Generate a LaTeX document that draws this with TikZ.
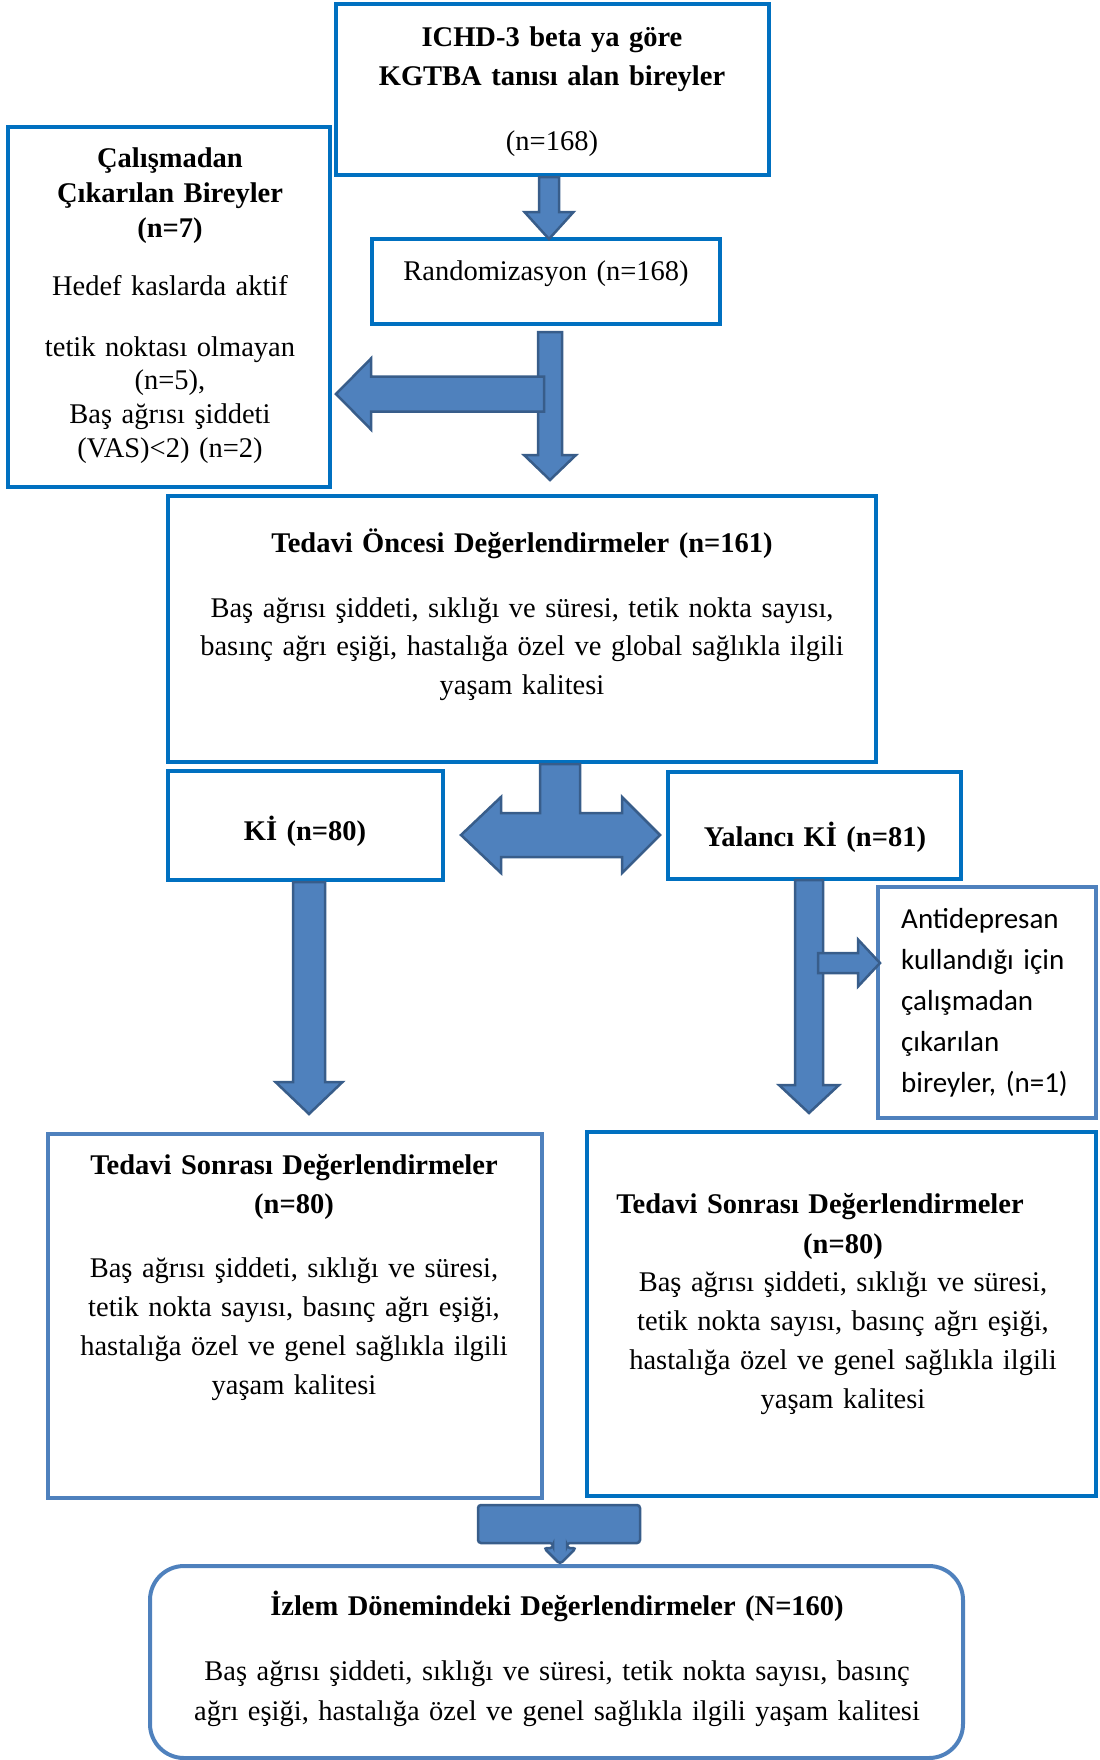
\documentclass[tikz,border=0pt]{standalone}
\usepackage{fontspec}
\setmainfont{Liberation Serif}
\newfontfamily\calibrifont{Carlito}
\usetikzlibrary{calc,fit}

\tikzset{
  box/.style={draw=boxBlue, line width=4bp, inner sep=0pt},
  softbox/.style={box, draw=softBlue},
  blockarrow/.style={fill=arrowFill, draw=arrowLine, line width=2.5bp, line join=miter},
  txt/.style={inner sep=0pt, anchor=base, align=center, text width=#1,
    font=\fontsize{28.5bp}{39bp}\selectfont},
  txt/.default=760bp,
  lead/.style={font=\fontsize{28.5bp}{#1}\selectfont},
  % length/shaft half/head half/head length
  pics/downarrow/.style args={#1/#2/#3/#4}{code={
    \draw[blockarrow] (-#2,0) -- (-#2,#1-#4) -- (-#3,#1-#4) -- (0,#1)
      -- (#3,#1-#4) -- (#2,#1-#4) -- (#2,0) -- cycle;}},
  pics/leftarrow/.style args={#1/#2/#3/#4}{code={
    \draw[blockarrow] (0,-#2) -- (-#1+#4,-#2) -- (-#1+#4,-#3) -- (-#1,0)
      -- (-#1+#4,#3) -- (-#1+#4,#2) -- (0,#2) -- cycle;}},
  pics/rightarrow/.style args={#1/#2/#3/#4}{code={
    \draw[blockarrow] (0,-#2) -- (#1-#4,-#2) -- (#1-#4,-#3) -- (#1,0)
      -- (#1-#4,#3) -- (#1-#4,#2) -- (0,#2) -- cycle;}},
}

\begin{document}
\begin{tikzpicture}[x=1bp,y=-1bp]
% Colors
\definecolor{boxBlue}{RGB}{0,112,192}
\definecolor{softBlue}{RGB}{79,129,189}
\definecolor{arrowFill}{RGB}{79,129,189}
\definecolor{arrowLine}{RGB}{56,93,138}
\useasboundingbox (0,0) rectangle (1099,1760);

% Boxes
\node[box, fit={(336,4) (769,175)}] (ichd) {};
\node[box, fit={(372,239) (720,324)}] (rand) {};
\node[box, fit={(8,127) (330,487)}] (excl) {};
\node[box, fit={(168,496) (876,762)}] (pre) {};
\node[box, fit={(168,771) (443,880)}] (ki) {};
\node[box, fit={(668,772) (961,879)}] (sham) {};
\node[softbox, fit={(878,887) (1096,1118)}] (anti) {};
\node[softbox, fit={(48,1134) (542,1498)}] (postki) {};
\node[box, fit={(587,1132) (1096,1496)}] (postsham) {};
\node[softbox, rounded corners=34bp, fit={(150,1566) (963,1758)}] (follow) {};

% Texts
\node[txt] (ichdtitle) at (552,46) {\bfseries ICHD-3 beta ya göre\\KGTBA tanısı alan bireyler};
\node[txt] (ichdn) at (552,150) {(n=168)};
\node[txt] (randtext) at (546,280) {Randomizasyon (n=168)};
\node[txt=320bp, lead=35bp] (excltitle) at (170,167) {\bfseries Çalışmadan\\Çıkarılan Bireyler\\(n=7)};
\node[txt=320bp] (exclone) at (170,295) {Hedef kaslarda aktif};
\node[txt=320bp, lead=33.7bp] (excltwo) at (170,356) {tetik noktası olmayan\\(n=5),\\Baş ağrısı şiddeti\\(VAS)<2) (n=2)};
\node[txt] (pretitle) at (522,552) {\bfseries Tedavi Öncesi Değerlendirmeler (n=161)};
\node[txt, lead=38.5bp] (prebody) at (522,617) {Baş ağrısı şiddeti, sıklığı ve süresi, tetik nokta sayısı,\\basınç ağrı eşiği, hastalığa özel ve global sağlıkla ilgili\\yaşam kalitesi};
\node[txt=270bp] (kitext) at (305,840) {\bfseries Kİ (n=80)};
\node[txt=290bp] (shamtext) at (815,846) {\bfseries Yalancı Kİ (n=81)};
\node[inner sep=0pt, anchor=base west, align=left, text width=200bp,
  font=\calibrifont\fontsize{29bp}{41.2bp}\selectfont] (antitext) at (901,928)
  {Antidepresan\\kullandığı için\\çalışmadan\\çıkarılan\\bireyler, (n=1)};
\node[txt=490bp] (postkititle) at (294,1174) {\bfseries Tedavi Sonrası Değerlendirmeler\\(n=80)};
\node[txt=490bp] (postkibody) at (294,1277) {Baş ağrısı şiddeti, sıklığı ve süresi,\\tetik nokta sayısı, basınç ağrı eşiği,\\hastalığa özel ve genel sağlıkla ilgili\\yaşam kalitesi};
\node[txt=500bp] (postshamtitle) at (820,1213) {\bfseries Tedavi Sonrası Değerlendirmeler};
\node[txt=200bp] (postshamn) at (843,1253) {\bfseries (n=80)};
\node[txt=500bp, lead=39.3bp] (postshambody) at (843,1291) {Baş ağrısı şiddeti, sıklığı ve süresi,\\tetik nokta sayısı, basınç ağrı eşiği,\\hastalığa özel ve genel sağlıkla ilgili\\yaşam kalitesi};
\node[txt=800bp] (followtitle) at (557,1615) {\bfseries İzlem Dönemindeki Değerlendirmeler (N=160)};
\node[txt=800bp, lead=40bp] (followbody) at (557,1680) {Baş ağrısı şiddeti, sıklığı ve süresi, tetik nokta sayısı, basınç\\ağrı eşiği, hastalığa özel ve genel sağlıkla ilgili yaşam kalitesi};

% Block arrows
\pic at ($(ichd.south)+(-3.5,0)$) {downarrow=62/10/24.5/27};
\pic at ($(rand.south)+(4,6)$) {downarrow=148/12/26/25};
\pic at ($(excl.east)+(212,87)$) {leftarrow=208/17.5/35.5/35};
\pic at ($(ki.south)+(3.5,0)$) {downarrow=232/16/33.5/32};
\pic at ($(sham.south)+(-5.5,-1)$) {downarrow=233/14/30/28};
\pic at ($(anti.west)+(-58,-39.5)$) {rightarrow=62/10/23.5/22};
% T arrow below pre
\draw[blockarrow] (pre.south -| 540,0) -- (540,813) -- (501,813) -- (501,797)
  -- (461,835) -- (501,873) -- (501,857) -- (622,857) -- (622,873)
  -- (660,835) -- (622,797) -- (622,813) -- (580,813) -- (pre.south -| 580,0) -- cycle;
% callout arrow to follow
\draw[blockarrow, rounded corners=3bp] (478,1505) -- (640,1505) -- (640,1543)
  -- (567,1543) -- (567,1548) -- (576,1548) -- (follow.north -| 560,0)
  -- (544,1548) -- (553,1548) -- (553,1543) -- (478,1543) -- cycle;
\end{tikzpicture}
\end{document}
